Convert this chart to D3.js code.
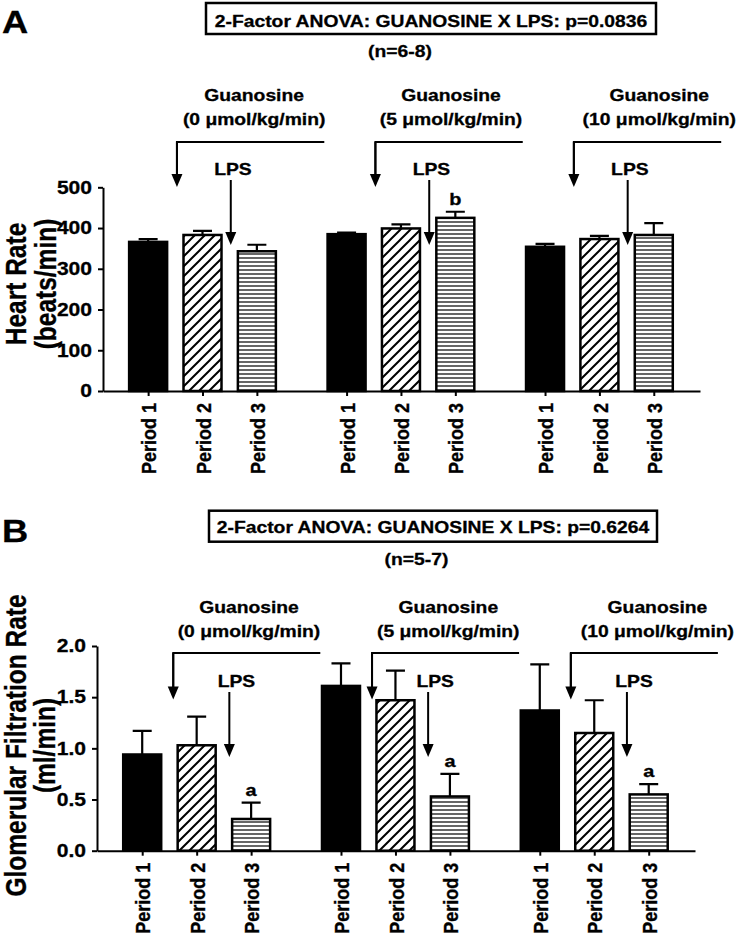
<!DOCTYPE html>
<html><head><meta charset="utf-8">
<script src="https://cdn.jsdelivr.net/npm/d3@7"></script>
<style>
body{margin:0;background:#fff}
text{font-family:"Liberation Sans",Arial,Helvetica,sans-serif;font-weight:bold;fill:#000;stroke:#000;stroke-width:0.3px}
</style>
</head><body>
<svg id="chart" width="740" height="939"></svg>
<script>
// ---------- data ----------
const periods = ["Period 1", "Period 2", "Period 3"];
const doses = ["0", "5", "10"];

const hrMean = [[366, 383, 343], [385, 399, 425], [354, 373, 383]];
const hrSem = [[7, 10, 16], [4, 10, 15], [7, 8, 29]];
const hrLetters = [["", "", ""], ["", "", "b"], ["", "", ""]];
const hrTicks = [0, 100, 200, 300, 400, 500];

const gfrMean = [[0.94, 1.03, 0.31], [1.61, 1.47, 0.53], [1.37, 1.15, 0.55]];
const gfrSem = [[0.23, 0.28, 0.16], [0.22, 0.29, 0.22], [0.45, 0.32, 0.10]];
const gfrLetters = [["", "", "a"], ["", "", "a"], ["", "", "a"]];
const gfrTicks = [0, 0.5, 1.0, 1.5, 2.0];

// ---------- setup ----------
const SX = 1.17; // horizontal stretch of the original figure's type
const svg = d3.select("#chart");
const defs = svg.append("defs");
const diag = defs.append("pattern").attr("id", "diag").attr("patternUnits", "userSpaceOnUse")
  .attr("width", 10).attr("height", 10);
diag.append("rect").attr("width", 10).attr("height", 10).attr("fill", "#fff");
diag.append("path").attr("d", "M-2,12 L12,-2 M-2,2 L2,-2 M8,12 L12,8")
  .attr("stroke", "#000").attr("stroke-width", 2);
const horiz = defs.append("pattern").attr("id", "horiz").attr("patternUnits", "userSpaceOnUse")
  .attr("width", 8).attr("height", 4);
horiz.append("rect").attr("width", 8).attr("height", 4).attr("fill", "#fff");
horiz.append("path").attr("d", "M0,2 H8").attr("stroke", "#000").attr("stroke-width", 1.2);
const fills = ["#000", "url(#diag)", "url(#horiz)"];

function stext(parent, str, x, y, size, anchor, rot) {
  return parent.append("text")
    .attr("transform", `translate(${x},${y}) scale(${SX},1)` + (rot ? ` rotate(${rot})` : ""))
    .attr("text-anchor", anchor || "middle")
    .attr("font-size", size)
    .text(str);
}

function arrow(parent, x, y0, tip) {
  parent.append("path").attr("d", `M${x},${y0} V${tip - 12}`)
    .attr("stroke", "#000").attr("stroke-width", 2).attr("fill", "none");
  parent.append("path").attr("d", `M${x - 5.5},${tip - 13} L${x + 5.5},${tip - 13} L${x},${tip} Z`)
    .attr("fill", "#000");
}

function drawPanel(cfg, means, sems, letters, ticks) {
  const g = svg.append("g");
  const xs = d3.scaleLinear().domain([-0.83, 10.15]).range(cfg.xRange);
  const ys = d3.scaleLinear().domain([0, ticks[ticks.length - 1]]).range(cfg.yRange);
  const bw = 38;
  const pos = (gi, pi) => gi * 3.65 + pi;

  const items = [];
  means.forEach((row, gi) => row.forEach((v, pi) =>
    items.push({ gi, pi, v, e: sems[gi][pi], l: letters[gi][pi] })));

  // bars
  g.selectAll("rect.bar").data(items).enter().append("rect")
    .attr("class", "bar")
    .attr("x", d => xs(pos(d.gi, d.pi)) - bw / 2)
    .attr("width", bw)
    .attr("y", d => ys(d.v))
    .attr("height", d => ys(0) - ys(d.v))
    .attr("fill", d => fills[d.pi])
    .attr("stroke", "#000").attr("stroke-width", 2.5);

  // error bars (upper)
  g.selectAll("path.err").data(items).enter().append("path")
    .attr("class", "err")
    .attr("d", d => {
      const cx = xs(pos(d.gi, d.pi));
      return `M${cx},${ys(d.v)} V${ys(d.v + d.e)} M${cx - 9.5},${ys(d.v + d.e)} H${cx + 9.5}`;
    })
    .attr("stroke", "#000").attr("stroke-width", 2.2).attr("fill", "none");

  // significance letters
  items.filter(d => d.l).forEach(d =>
    stext(g, d.l, xs(pos(d.gi, d.pi)), ys(d.v + d.e) - 7, 17));

  // y axis
  const yAx = g.append("g").attr("transform", `translate(${cfg.xRange[0]},0)`)
    .call(d3.axisLeft(ys).tickValues(ticks).tickSize(5).tickSizeOuter(0).tickFormat(cfg.fmt));
  yAx.selectAll("path,line").attr("stroke", "#000").attr("stroke-width", 2);
  yAx.selectAll("text").each(function () {
    const t = d3.select(this);
    const x = +t.attr("x");
    t.attr("x", null).attr("transform", `translate(${x - 3},0) scale(${SX},1)`)
      .attr("font-size", 18).attr("fill", "#000");
  });
  yAx.attr("font-family", null).attr("font-size", null);

  // x axis
  const xvals = items.map(d => pos(d.gi, d.pi));
  const xAx = g.append("g").attr("transform", `translate(0,${ys(0)})`)
    .call(d3.axisBottom(xs).tickValues(xvals).tickSize(5).tickSizeOuter(0)
      .tickFormat((d, i) => periods[i % 3]));
  xAx.selectAll("path,line").attr("stroke", "#000").attr("stroke-width", 2);
  xAx.selectAll("text")
    .attr("y", null).attr("dy", "0.36em")
    .attr("text-anchor", "end")
    .attr("transform", `translate(0,12) scale(${SX},1) rotate(-90)`)
    .attr("font-size", 18).attr("fill", "#000");
  xAx.attr("font-family", null).attr("font-size", null);

  // y title
  stext(g, cfg.yTitle[0], cfg.yTitleX[0], cfg.yTitleY, 24.5, "middle", -90);
  stext(g, cfg.yTitle[1], cfg.yTitleX[1], cfg.yTitleY, 24.5, "middle", -90);

  // panel letter
  stext(g, cfg.label, 2, cfg.labelY, 31, "start");

  // title box
  const b = cfg.box;
  g.append("rect").attr("x", b.x0).attr("y", b.y0).attr("width", b.x1 - b.x0).attr("height", b.y1 - b.y0)
    .attr("fill", "none").attr("stroke", "#000").attr("stroke-width", 2.5);
  stext(g, cfg.title, (b.x0 + b.x1) / 2, b.textY, 16.5);
  stext(g, cfg.n, cfg.nX, cfg.nY, 16.5);

  // guanosine / LPS annotations
  doses.forEach((dose, gi) => {
    const base = gi * 3.65;
    const ax = xs(base + cfg.arrowP), ex = xs(base + cfg.bracketEndP);
    g.append("path").attr("d", `M${ex},${cfg.bracketY} H${ax} V${cfg.tipY - 12}`)
      .attr("stroke", "#000").attr("stroke-width", 2).attr("fill", "none");
    arrow(g, ax, cfg.bracketY, cfg.tipY);
    arrow(g, xs(base + cfg.lpsP), cfg.lpsTop, cfg.lpsTip);
    const lx = xs(base + cfg.labelP[gi]);
    stext(g, "Guanosine", lx, cfg.guanY, 16.5);
    stext(g, `(${dose} \u03bcmol/kg/min)`, lx, cfg.doseY, 16.5);
    stext(g, "LPS", xs(base + cfg.lpsTextP), cfg.lpsTextY, 16.5);
  });
}

drawPanel({
  label: "A", labelY: 33,
  box: { x0: 206, x1: 656, y0: 3, y1: 34, textY: 26.5 },
  title: "2-Factor ANOVA: GUANOSINE X LPS: p=0.0836",
  n: "(n=6-8)", nX: 400, nY: 57,
  xRange: [103, 700], yRange: [391, 187.3],
  guanY: 101, doseY: 125, bracketY: 142, tipY: 187,
  lpsTextY: 175, lpsTop: 180, lpsTip: 245,
  arrowP: 0.53, lpsP: 1.52, lpsTextP: 1.56, bracketEndP: 3.24,
  labelP: [1.95, 1.92, 2.1],
  yTitle: ["Heart Rate", "(beats/min)"], yTitleX: [26, 55.5], yTitleY: 284,
  fmt: d3.format("d")
}, hrMean, hrSem, hrLetters, hrTicks);

drawPanel({
  label: "B", labelY: 541.7,
  box: { x0: 209, x1: 657, y0: 510.7, y1: 541.7, textY: 533.3 },
  title: "2-Factor ANOVA: GUANOSINE X LPS: p=0.6264",
  n: "(n=5-7)", nX: 416.5, nY: 565,
  xRange: [97, 695], yRange: [850.7, 646],
  guanY: 612.7, doseY: 636.7, bracketY: 653, tipY: 699.5,
  lpsTextY: 687, lpsTop: 692, lpsTip: 757,
  arrowP: 0.57, lpsP: 1.6, lpsTextP: 1.73, bracketEndP: 3.27,
  labelP: [1.96, 1.97, 2.16],
  yTitle: ["Glomerular Filtration Rate", "(ml/min)"], yTitleX: [26, 55], yTitleY: 745.5,
  fmt: d3.format(".1f")
}, gfrMean, gfrSem, gfrLetters, gfrTicks);
</script>
</body></html>
